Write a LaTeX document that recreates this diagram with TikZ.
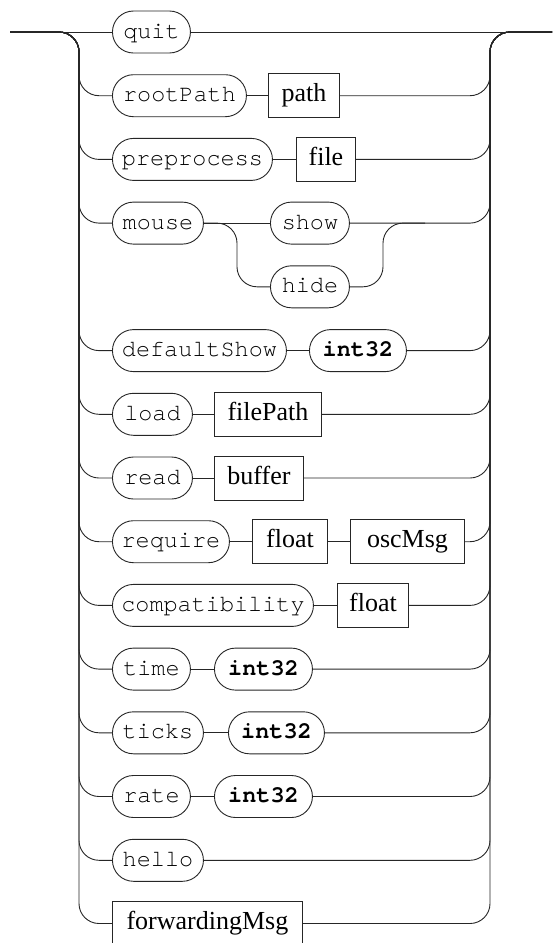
\documentclass[tikz,border=0pt]{standalone}
\usepackage{fontspec}
\setmainfont{Liberation Serif}
\setmonofont{TeX Gyre Cursor}
\begin{document}
\begin{tikzpicture}[x=1pt,y=-1pt,
  rail/.style={line width=0.9pt,draw=black!85,rounded corners=20pt},
  term/.style={draw=black!85,line width=0.9pt,rounded corners=21pt,minimum height=42pt,anchor=west,
     inner xsep=0pt,font=\fontsize{23.5}{27}\selectfont\ttfamily,text height=16pt,text depth=4pt},
  termb/.style={term,font=\fontsize{23.5}{27}\selectfont\ttfamily\bfseries},
  nonterm/.style={draw=black!85,line width=0.9pt,minimum height=44pt,anchor=west,inner xsep=0pt,
     font=\fontsize{26}{30}\selectfont,text height=18pt,text depth=6pt}]
\useasboundingbox (0,0) rectangle (552,943);
\coordinate (start) at (10,32);
\coordinate (lj) at (79,32);
\coordinate (rj) at (490,32);
\coordinate (end) at (552,32);
% row 0
\node[term,minimum width=78] (quit) at (112,32) {quit};
% row 1
\node[term,minimum width=134] (rootPath) at (112,95.7) {rootPath};
\node[nonterm,minimum width=71] (path) at (268,95.7) {path};
% row 2
\node[term,minimum width=160] (preprocess) at (112,159.4) {preprocess};
\node[nonterm,minimum width=59] (file) at (296,159.4) {file};
% row 3/4
\node[term,minimum width=91] (mouse) at (112,223.1) {mouse};
\node[term,minimum width=79] (show) at (270,223.1) {show};
\node[term,minimum width=79] (hide) at (270,286.8) {hide};
\coordinate (msplit) at (237,223.1);
\coordinate (mjoin) at (383,223.1);
\coordinate (mjoinb) at (425,223.1);
% row 5
\node[term,minimum width=174] (defaultShow) at (112,350.6) {defaultShow};
\node[termb,minimum width=97] (intA) at (309,350.6) {int32};
% row 6
\node[term,minimum width=80] (load) at (112,414.3) {load};
\node[nonterm,minimum width=107] (filePath) at (214,414.3) {filePath};
% row 7
\node[term,minimum width=80] (read) at (112,478) {read};
\node[nonterm,minimum width=89] (buffer) at (214,478) {buffer};
% row 8
\node[term,minimum width=117] (require) at (112,541.7) {require};
\node[nonterm,minimum width=75] (floatA) at (252,541.7) {float};
\node[nonterm,minimum width=114] (oscMsg) at (350,541.7) {oscMsg};
% row 9
\node[term,minimum width=201] (compatibility) at (112,605.4) {compatibility};
\node[nonterm,minimum width=71] (floatB) at (337,605.4) {float};
% row 10
\node[term,minimum width=78] (time) at (112,669.1) {time};
\node[termb,minimum width=98] (intB) at (214,669.1) {int32};
% row 11
\node[term,minimum width=91] (ticks) at (112,732.8) {ticks};
\node[termb,minimum width=96] (intC) at (228,732.8) {int32};
% row 12
\node[term,minimum width=78] (rate) at (112,796.5) {rate};
\node[termb,minimum width=98] (intD) at (214,796.5) {int32};
% row 13
\node[term,minimum width=91] (hello) at (112,860.3) {hello};
% row 14
\node[nonterm,minimum width=190] (forwardingMsg) at (112,923.5) {forwardingMsg};

% main line
\draw[rail] (start) -- (quit.west);
\draw[rail] (quit.east) -- (end);
% left branches
\foreach \n in {rootPath,preprocess,mouse,defaultShow,load,read,require,compatibility,time,ticks,rate,hello,forwardingMsg}{
  \draw[rail] (start) -- (lj) |- (\n.west);
}
% inner links
\draw[rail] (rootPath) -- (path);
\draw[rail] (preprocess) -- (file);
\draw[rail] (mouse) -- (show);
\draw[rail] (mouse.east) -- (msplit) |- (hide.west);
\draw[rail] (hide.east) -| (mjoin) -- (mjoinb);
\draw[rail] (defaultShow) -- (intA);
\draw[rail] (load) -- (filePath);
\draw[rail] (read) -- (buffer);
\draw[rail] (require) -- (floatA);
\draw[rail] (floatA) -- (oscMsg);
\draw[rail] (compatibility) -- (floatB);
\draw[rail] (time) -- (intB);
\draw[rail] (ticks) -- (intC);
\draw[rail] (rate) -- (intD);
% right branches
\foreach \n in {path,file,show,intA,filePath,buffer,oscMsg,floatB,intB,intC,intD,hello,forwardingMsg}{
  \draw[rail] (\n.east) -| (rj) -- (end);
}
\end{tikzpicture}
\end{document}
